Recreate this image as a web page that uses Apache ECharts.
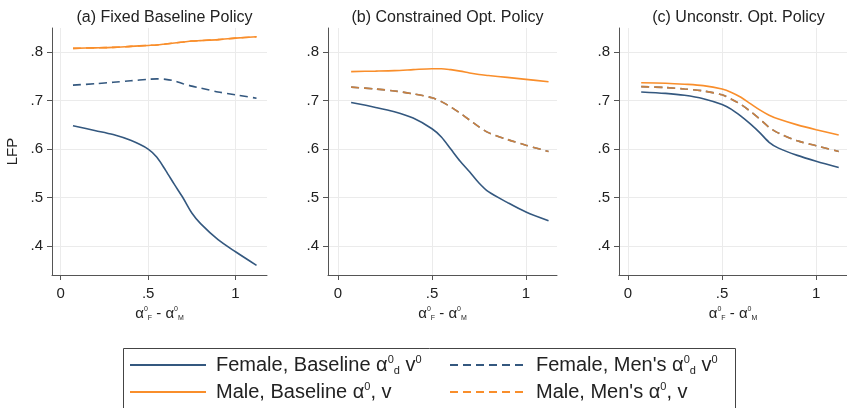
<!DOCTYPE html>
<html>
<head>
<meta charset="utf-8">
<script src="https://cdn.jsdelivr.net/npm/echarts@6/dist/echarts.min.js"></script>
<style>
  html, body { margin: 0; padding: 0; background: #fff; }
  #chart { width: 847px; height: 408px; }
</style>
</head>
<body>
<div id="chart"></div>
<script>
// x values (alpha_F - alpha_M) shared by every curve
const xVals = [0.07, 0.2, 0.3, 0.4, 0.5, 0.55, 0.6, 0.65, 0.7, 0.75, 0.8, 0.9, 1.0, 1.12];

// (a) Fixed Baseline Policy
const aFemaleBase = [0.648, 0.638, 0.630, 0.618, 0.600, 0.583, 0.556, 0.527, 0.499, 0.468, 0.446, 0.413, 0.388, 0.360];
const aFemaleMens = [0.732, 0.735, 0.738, 0.741, 0.744, 0.745, 0.744, 0.741, 0.735, 0.730, 0.726, 0.718, 0.712, 0.705];
const aMaleBase   = [0.808, 0.809, 0.810, 0.812, 0.814, 0.815, 0.817, 0.819, 0.821, 0.823, 0.824, 0.826, 0.829, 0.832];
const aMaleMens   = [0.808, 0.809, 0.810, 0.812, 0.814, 0.815, 0.817, 0.819, 0.821, 0.823, 0.824, 0.826, 0.829, 0.832];

// (b) Constrained Opt. Policy
const bFemaleBase = [0.696, 0.686, 0.677, 0.664, 0.642, 0.625, 0.600, 0.575, 0.553, 0.530, 0.512, 0.490, 0.470, 0.452];
const bFemaleMens = [0.728, 0.724, 0.720, 0.714, 0.706, 0.698, 0.687, 0.674, 0.660, 0.646, 0.634, 0.620, 0.608, 0.595];
const bMaleBase   = [0.760, 0.761, 0.762, 0.764, 0.766, 0.766, 0.764, 0.761, 0.757, 0.754, 0.752, 0.748, 0.744, 0.739];
const bMaleMens   = [0.728, 0.724, 0.720, 0.714, 0.706, 0.698, 0.687, 0.674, 0.660, 0.646, 0.634, 0.620, 0.608, 0.595];

// (c) Unconstr. Opt. Policy
const cFemaleBase = [0.718, 0.715, 0.711, 0.704, 0.692, 0.682, 0.668, 0.652, 0.634, 0.614, 0.602, 0.587, 0.575, 0.562];
const cFemaleMens = [0.729, 0.727, 0.724, 0.720, 0.712, 0.703, 0.692, 0.678, 0.662, 0.645, 0.633, 0.617, 0.607, 0.595];
const cMaleBase   = [0.737, 0.736, 0.734, 0.731, 0.724, 0.717, 0.707, 0.694, 0.681, 0.670, 0.662, 0.650, 0.640, 0.629];
const cMaleMens   = [0.729, 0.727, 0.724, 0.720, 0.712, 0.703, 0.692, 0.678, 0.662, 0.645, 0.633, 0.617, 0.607, 0.595];

const panelTitles = ['(a) Fixed Baseline Policy', '(b) Constrained Opt. Policy', '(c) Unconstr. Opt. Policy'];
const xTicks = [0, 0.5, 1];
const yTicks = [0.4, 0.5, 0.6, 0.7, 0.8];

const names = {
  fb: 'Female, Baseline',
  fm: "Female, Men's",
  mb: 'Male, Baseline',
  mm: "Male, Men's"
};
const legendText = {
  'Female, Baseline': 'Female, Baseline α{sup|0}{sub|d} v{sup|0}',
  "Female, Men's": "Female, Men's α{sup|0}{sub|d} v{sup|0}",
  'Male, Baseline': 'Male, Baseline α{sup|0}, v',
  "Male, Men's": "Male, Men's α{sup|0}, v"
};

const BLUE = '#34587f';
const ORANGE = '#f98e2b';

const panels = [
  { fb: aFemaleBase, fm: aFemaleMens, mb: aMaleBase, mm: aMaleMens },
  { fb: bFemaleBase, fm: bFemaleMens, mb: bMaleBase, mm: bMaleMens },
  { fb: cFemaleBase, fm: cFemaleMens, mb: cMaleBase, mm: cMaleMens }
];

const grids = [
  { left: 52, top: 28, width: 215, height: 247, xmin: -0.05, xmax: 1.18 },
  { left: 328, top: 28, width: 229, height: 247, xmin: -0.053, xmax: 1.165 },
  { left: 619, top: 28, width: 229, height: 247, xmin: -0.048, xmax: 1.164 }
];

function pairs(ys) {
  return xVals.map((x, i) => [x, ys[i]]);
}

function tickFmt(v) {
  if (v === 0) return '0';
  if (v === 1) return '1';
  return String(Math.round(v * 10) / 10).replace(/^0/, '');
}

const axisLineStyle = { color: '#555', width: 1 };
const gridLine = { show: true, lineStyle: { color: '#ebebeb', width: 1 } };
const legendRich = {
  sup: { fontSize: 11, color: '#222', verticalAlign: 'top', lineHeight: 12 },
  sub: { fontSize: 11, color: '#222', verticalAlign: 'bottom', lineHeight: 12 }
};

function makeLegend(left, items) {
  return {
    orient: 'vertical',
    left: left,
    top: 354,
    padding: 0,
    itemGap: 5,
    itemWidth: 76,
    itemHeight: 12,
    itemStyle: { opacity: 0 },
    data: items,
    formatter: n => legendText[n],
    textStyle: { fontSize: 20, color: '#222', lineHeight: 22, padding: [0, 0, 0, 5], rich: legendRich }
  };
}

const option = {
  animation: false,
  backgroundColor: '#fff',
  textStyle: { fontFamily: 'Liberation Sans, Arial, sans-serif' },
  title: grids.map((g, i) => ({
    text: panelTitles[i],
    left: g.left + g.width / 2,
    textAlign: 'center',
    top: 5,
    textStyle: { fontSize: 16, fontWeight: 'normal', color: '#222' }
  })),
  grid: grids.map(g => ({ left: g.left, top: g.top, width: g.width, height: g.height })),
  xAxis: grids.map((g, i) => ({
    type: 'value',
    gridIndex: i,
    min: g.xmin,
    max: g.xmax,
    axisLine: { show: true, onZero: false, lineStyle: axisLineStyle },
    axisTick: { show: true, length: 5, customValues: xTicks, lineStyle: axisLineStyle },
    axisLabel: { customValues: xTicks, formatter: tickFmt, fontSize: 15, color: '#222', margin: 11 },
    splitLine: gridLine,
    name: 'α{sup|0}{sub|F} - α{sup|0}{sub|M}',
    nameLocation: 'middle',
    nameGap: 31,
    nameTextStyle: {
      fontSize: 15, color: '#222',
      rich: {
        sup: { fontSize: 7, color: '#222', verticalAlign: 'top', lineHeight: 16 },
        sub: { fontSize: 7, color: '#222', verticalAlign: 'bottom', lineHeight: 16 }
      }
    }
  })),
  yAxis: grids.map((g, i) => ({
    type: 'value',
    gridIndex: i,
    min: 0.34,
    max: 0.85,
    axisLine: { show: true, onZero: false, lineStyle: axisLineStyle },
    axisTick: { show: true, length: 5, customValues: yTicks, lineStyle: axisLineStyle },
    axisLabel: { customValues: yTicks, formatter: tickFmt, fontSize: 15, color: '#222', margin: 9 },
    splitLine: gridLine,
    name: i === 0 ? 'LFP' : '',
    nameLocation: 'middle',
    nameGap: 32,
    nameRotate: 90,
    nameTextStyle: { fontSize: 15, color: '#222' }
  })),
  legend: [
    makeLegend(129, [names.fb, names.mb]),
    makeLegend(449, [names.fm, names.mm])
  ],
  graphic: [
    {
      type: 'rect',
      left: 121,
      top: 346,
      shape: { width: 612, height: 80 },
      style: { fill: 'none', stroke: '#444', lineWidth: 1 },
      silent: true
    }
  ],
  series: []
};

panels.forEach((p, i) => {
  const dashedOpacity = i === 0 ? 1 : 0.75;
  const common = { type: 'line', xAxisIndex: i, yAxisIndex: i, smooth: 0.3, symbol: 'none' };
  option.series.push(
    Object.assign({ name: names.fb, data: pairs(p.fb),
      lineStyle: { color: BLUE, width: 1.6 }, itemStyle: { color: BLUE } }, common),
    Object.assign({ name: names.fm, data: pairs(p.fm),
      lineStyle: { color: BLUE, width: 1.6, type: [8, 5] }, itemStyle: { color: BLUE } }, common),
    Object.assign({ name: names.mb, data: pairs(p.mb),
      lineStyle: { color: ORANGE, width: 1.6 }, itemStyle: { color: ORANGE } }, common),
    Object.assign({ name: names.mm, data: pairs(p.mm),
      lineStyle: { color: ORANGE, width: 1.6, type: [8, 5], opacity: dashedOpacity }, itemStyle: { color: ORANGE } }, common)
  );
});

const chart = echarts.init(document.getElementById('chart'));
chart.setOption(option);
</script>
</body>
</html>
